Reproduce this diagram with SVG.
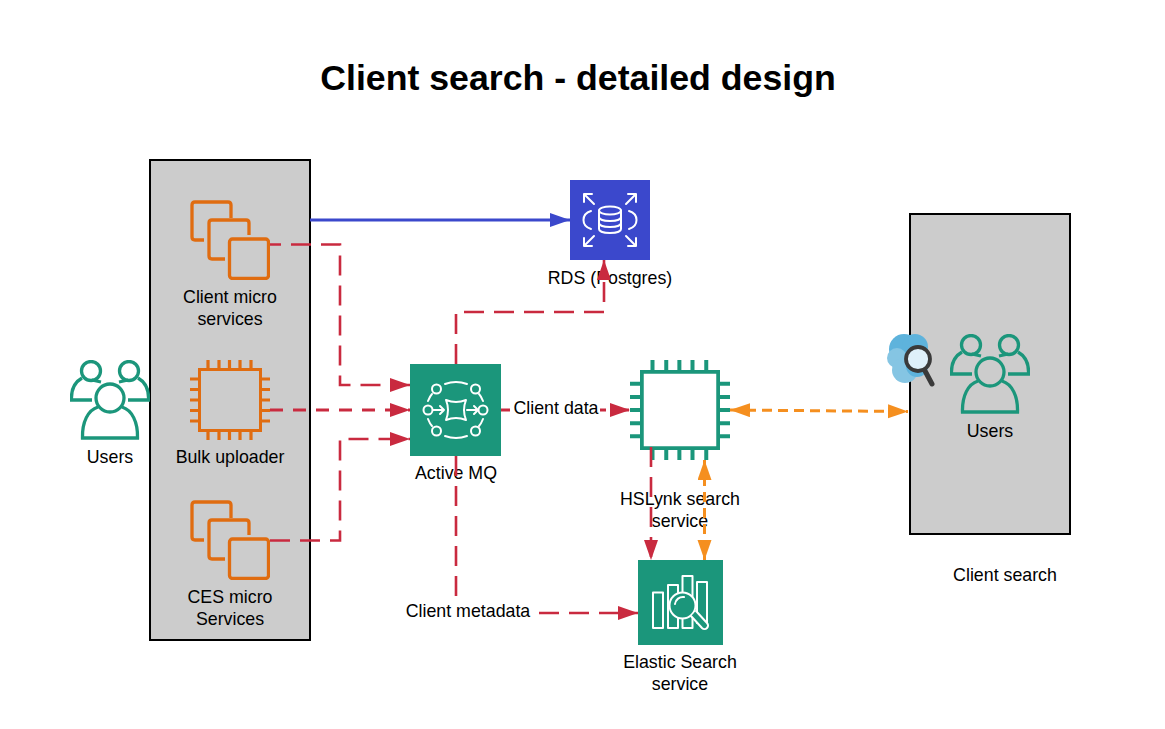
<svg xmlns="http://www.w3.org/2000/svg" xmlns:xlink="http://www.w3.org/1999/xlink" width="1165" height="729" viewBox="0 0 1165 729">
<style>
text{font-family:"Liberation Sans",Arial,sans-serif;font-size:17.8px;fill:#000;text-anchor:middle}
.title{font-size:35.7px;font-weight:700}
.box{fill:#ccc;stroke:#000;stroke-width:2}
.ln{fill:none;stroke-linejoin:miter}
.red{stroke:#c92a3f;stroke-width:2.6;stroke-dasharray:20 10}
.redb{stroke:#c92a3f;stroke-width:3.2;stroke-dasharray:13 10}
.org{stroke:#f58f1f;stroke-width:3;stroke-dasharray:10 6}
.wh{fill:none;stroke:#fff;stroke-width:2;stroke-linecap:round;stroke-linejoin:round}
.bg{fill:#fff}
.tl{fill:#1b967b}
</style>
<defs>
<marker id="aRed" markerUnits="userSpaceOnUse" markerWidth="22" markerHeight="16" refX="20" refY="7" orient="auto"><path d="M0 0L20 7L0 14Z" fill="#c92a3f"/></marker>
<marker id="aBlue" markerUnits="userSpaceOnUse" markerWidth="22" markerHeight="16" refX="20" refY="7" orient="auto"><path d="M0 0L20 7L0 14Z" fill="#3b48cc"/></marker>
<marker id="aOrg" markerUnits="userSpaceOnUse" markerWidth="22" markerHeight="16" refX="20" refY="7" orient="auto-start-reverse"><path d="M0 0L20 7L0 14Z" fill="#f58f1f"/></marker>
<symbol id="users" viewBox="0 0 80 80">
<g fill="none" stroke="#1b967b" stroke-width="3.300" stroke-linecap="butt">
<circle cx="21" cy="11" r="9.500"/><circle cx="59" cy="11" r="9.500"/><circle cx="40" cy="38" r="14"/>
<path d="M22 20L31 22M58 20L49 22"/>
<path d="M12 18C5 22 1 30 1.500 40H22M68 18C75 22 79 30 78.500 40H58"/>
<path d="M28 47C18 50 12 62 12.500 78H67.500C68 62 62 50 52 47"/>
</g>
</symbol>
<symbol id="chip" viewBox="0 0 80 80">
<path d="M18 0V9M29 0V9M39.500 0V9M50 0V9M61 0V9M18 71V80M29 71V80M39.500 71V80M50 71V80M61 71V80M0 19H9M0 29.500H9M0 40H9M0 50.500H9M0 61H9M71 19H80M71 29.500H80M71 40H80M71 50.500H80M71 61H80" fill="none" stroke-width="3.200" stroke="inherit"/>
<rect x="9.500" y="9.500" width="61" height="61" stroke-width="3"/>
</symbol>
<symbol id="stack" viewBox="0 0 80 80">
<g fill="none" stroke="#e06c10" stroke-width="3.300" stroke-linejoin="round">
<path d="M41 18V5Q41 2 38 2H5Q2 2 2 5V37Q2 40 5 40H14"/>
<path d="M59 35V23Q59 20 56 20H22Q19 20 19 23V56Q19 59 22 59H35"/>
<rect x="39.500" y="39" width="39" height="39.500" rx="3"/>
</g>
</symbol>
</defs>

<rect width="1165" height="729" fill="#fff"/>
<text class="title" x="578" y="90">Client search - detailed design</text>

<g id="left-container"><rect class="box" x="150" y="160" width="160" height="480"/></g>
<g id="right-container"><rect class="box" x="910" y="214" width="160" height="320"/></g>

<g id="users-left"><use href="#users" x="70" y="360" width="80" height="80"/><text x="110" y="463">Users</text></g>
<g id="client-micro"><use href="#stack" x="190" y="200" width="80" height="80"/><text x="230" y="303">Client micro</text><text x="230" y="325">services</text></g>
<g id="bulk-uploader"><use href="#chip" x="190" y="360" width="80" height="80" fill="none" stroke="#e06c10"/><text x="230" y="463">Bulk uploader</text></g>
<g id="ces-micro"><use href="#stack" x="190" y="500" width="80" height="80"/><text x="230" y="603">CES micro</text><text x="230" y="625">Services</text></g>

<g id="rds">
<rect x="570" y="180" width="80" height="80" fill="#3b48cc"/>
<g class="wh">
<ellipse cx="610" cy="210.500" rx="11" ry="4"/>
<path d="M599 210.500V229C599 231.500 604 233 610 233S621 231.500 621 229V210.500M599 217C599 219.500 604 221 610 221S621 219.500 621 217M599 223C599 225.500 604 227 610 227S621 225.500 621 223"/>
<path d="M591 211C581 214 581 226 591 229M629 211C639 214 639 226 629 229"/>
<path d="M584 194L594 204M584 202V194H592M636 194L626 204M636 202V194H628M584 246L594 236M584 238V246H592M636 246L626 236M636 238V246H628"/>
</g>
<text x="610" y="284">RDS (Postgres)</text>
</g>

<g id="active-mq">
<rect class="tl" x="410" y="364" width="91" height="92"/>
<g class="wh">
<circle cx="436.500" cy="389" r="4.500"/><circle cx="475.500" cy="389" r="4.500"/><circle cx="428" cy="410" r="4.500"/><circle cx="483" cy="410" r="4.500"/><circle cx="436.500" cy="431" r="4.500"/><circle cx="475.500" cy="431" r="4.500"/>
<path d="M445 384Q456 380 467 384M445 436Q456 440 467 436M428 401Q430 396 432 394M483 401Q481 396 479 394M428 419Q430 424 432 426M483 419Q481 424 479 426"/>
<path d="M446 400Q456 404 466 400Q462 410 466 420Q456 416 446 420Q450 410 446 400Z"/>
<path d="M433 410H444M440 406L444 410L440 414M467 410H478M474 406L478 410L474 414"/>
</g>
<text x="456" y="479">Active MQ</text>
</g>

<g id="hslynk"><use href="#chip" x="630" y="360" width="100" height="100" fill="#fff" stroke="#1b967b"/><text x="680" y="505">HSLynk search</text><text x="680" y="527">service</text></g>

<g id="elastic">
<rect class="tl" x="638" y="560" width="85" height="85"/>
<g class="wh" stroke-width="1.800">
<rect x="653" y="592.500" width="10" height="35.500"/>
<rect x="668" y="585" width="10" height="43"/>
<rect x="682.500" y="576" width="10" height="52"/>
<path d="M697 582H707V623L697 623Z"/>
<circle cx="682.500" cy="605.500" r="13" style="fill:#1b967b"/>
<path d="M675 604A8 8 0 0 1 684 597"/>
<path d="M691 616L702 628A2.800 2.800 0 0 0 707 623L696 611" style="fill:#1b967b"/>
</g>
<text x="680" y="668">Elastic Search</text><text x="680" y="690">service</text>
</g>

<g id="users-right">
<use href="#users" x="950" y="334" width="80" height="80"/><text x="990" y="437">Users</text>
</g>

<g id="client-search-logo">
<circle cx="904" cy="349" r="15" fill="#5eb3dc"/><circle cx="915" cy="347" r="13" fill="#5eb3dc"/><circle cx="897" cy="358" r="10" fill="#85c5e3"/><circle cx="905" cy="370" r="13" fill="#85c5e3"/><circle cx="917" cy="366" r="11" fill="#5eb3dc"/>
<path d="M924 369L932 384" stroke="#3a3a3a" stroke-width="5" stroke-linecap="round" fill="none"/>
<circle cx="918" cy="359" r="12" fill="#dff0fa" stroke="#3a3a3a" stroke-width="3.800"/>
</g>
<text x="1005" y="581">Client search</text>

<g id="connectors">
<path class="ln" d="M310 220H570" stroke="#3b48cc" stroke-width="3" marker-end="url(#aBlue)"/>
<path class="ln red" d="M270 244.500H340V385H410" stroke-dashoffset="9" marker-end="url(#aRed)"/>
<path class="ln redb" d="M270 410H410" marker-end="url(#aRed)"/>
<path class="ln red" d="M270 540.500H340V439H410" marker-end="url(#aRed)"/>
<path class="ln red" d="M456 364V312H604V260" marker-end="url(#aRed)"/>
<path class="ln redb" d="M501 410H630" marker-end="url(#aRed)"/>
<path class="ln red" d="M456 456V613H638" marker-end="url(#aRed)"/>
<path class="ln red" d="M651 447V560" marker-end="url(#aRed)"/>
<path class="ln org" d="M704.500 460V560" marker-start="url(#aOrg)" marker-end="url(#aOrg)"/>
<path class="ln org" d="M730 410L908 411.500" marker-start="url(#aOrg)" marker-end="url(#aOrg)"/>
</g>

<g id="connector-labels">
<rect class="bg" x="510" y="398" width="90" height="22"/><text x="556" y="414">Client data</text>
<rect class="bg" x="403" y="600" width="133" height="22"/><text x="468" y="617">Client metadata</text>
</g>
</svg>
